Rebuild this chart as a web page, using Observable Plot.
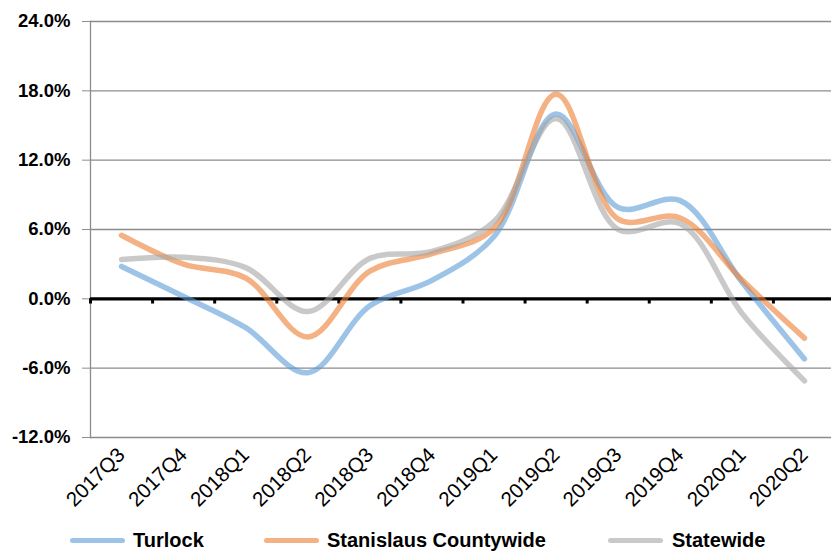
<!DOCTYPE html>
<html>
<head>
<meta charset="utf-8">
<script src="https://cdn.jsdelivr.net/npm/d3@7"></script>
<script src="https://cdn.jsdelivr.net/npm/@observablehq/plot@0.6"></script>
<style>
  html, body { margin: 0; padding: 0; background: #fff; overflow: hidden; }
  #chart { width: 831px; }
  #chart g[aria-label="x-axis tick label"] { font-size: 20.5px; }
  #legend { position: relative; width: 831px; height: 34px; font-family: "Liberation Sans", Arial, sans-serif; font-weight: bold; font-size: 20px; color: #000; }
  .sw { position: absolute; top: 18px; width: 55px; height: 5px; border-radius: 3px; }
  .lb { position: absolute; top: 9px; line-height: 22px; }
</style>
</head>
<body>
<div id="chart"></div>
<div id="legend"></div>
<script>
const categories = ["2017Q3","2017Q4","2018Q1","2018Q2","2018Q3","2018Q4","2019Q1","2019Q2","2019Q3","2019Q4","2020Q1","2020Q2"];
const seriesNames = ["Turlock", "Stanislaus Countywide", "Statewide"];
const turlock    = [2.8, 0.2, -2.5, -6.4, -0.6, 1.6, 5.4, 16.0, 7.9, 8.5, 1.4, -5.2];
const stanislaus = [5.5, 3.0, 1.8, -3.3, 2.4, 3.9, 6.1, 17.7, 6.9, 7.0, 1.6, -3.4];
const statewide  = [3.4, 3.6, 2.7, -1.1, 3.5, 4.1, 6.7, 15.6, 6.0, 6.5, -1.3, -7.1];
const yTicks = [-12, -6, 0, 6, 12, 18, 24];
const colors = ["#5B9BD5", "#ED7D31", "#A5A5A5"];

const seriesValues = [turlock, stanislaus, statewide];
const rows = [];
seriesNames.forEach((name, s) => seriesValues[s].forEach((v, i) => rows.push({series: name, i, value: v})));
const bounds = d3.range(categories.length + 1).map(i => i - 0.5);

const chart = Plot.plot({
  width: 831,
  height: 520,
  marginLeft: 90,
  marginRight: 0,
  marginTop: 21,
  marginBottom: 83,
  style: {background: "#fff", overflow: "hidden"},
  x: {type: "linear", domain: [-0.5, categories.length - 0.5], range: [90, 835]},
  y: {domain: [-12, 24]},
  color: {domain: seriesNames, range: colors},
  marks: [
    Plot.gridY(yTicks, {stroke: "#8c8c8c", strokeOpacity: 1, strokeWidth: 1.3}),
    Plot.axisY({ticks: yTicks, tickSize: 8, tickPadding: 12, stroke: "#8c8c8c", tickFormat: d => d.toFixed(1) + "%", label: null,
      fontSize: 18.5, fontWeight: "bold", fontFamily: "Liberation Sans, Arial, sans-serif", fill: "#000"}),
    Plot.frame({anchor: "left", stroke: "#8c8c8c", strokeWidth: 1.3}),
    Plot.ruleX(bounds, {x: d => d, y1: 0, y2: -0.45, stroke: "#000", strokeWidth: 3}),
    Plot.ruleY([0], {stroke: "#000", strokeWidth: 3.2}),
    Plot.axisX({ticks: d3.range(categories.length), tickFormat: i => categories[i], tickRotate: -45, tickSize: 0, tickPadding: 14,
      fontSize: 20.5, fontFamily: "Liberation Sans, Arial, sans-serif", fill: "#000", label: null}),
    Plot.line(rows, {x: "i", y: "value", stroke: "series", z: "series", curve: "catmull-rom", strokeWidth: 5.5, strokeOpacity: 0.6, strokeLinecap: "round"})
  ]
});
document.getElementById("chart").appendChild(chart);

const legend = document.getElementById("legend");
const swatchX = [70, 264, 608];
const labelX = [133, 327, 672];
seriesNames.forEach((name, s) => {
  const sw = document.createElement("div");
  sw.className = "sw";
  sw.style.left = swatchX[s] + "px";
  sw.style.background = colors[s];
  sw.style.opacity = 0.6;
  legend.appendChild(sw);
  const lb = document.createElement("div");
  lb.className = "lb";
  lb.style.left = labelX[s] + "px";
  lb.textContent = name;
  legend.appendChild(lb);
});
</script>
</body>
</html>
